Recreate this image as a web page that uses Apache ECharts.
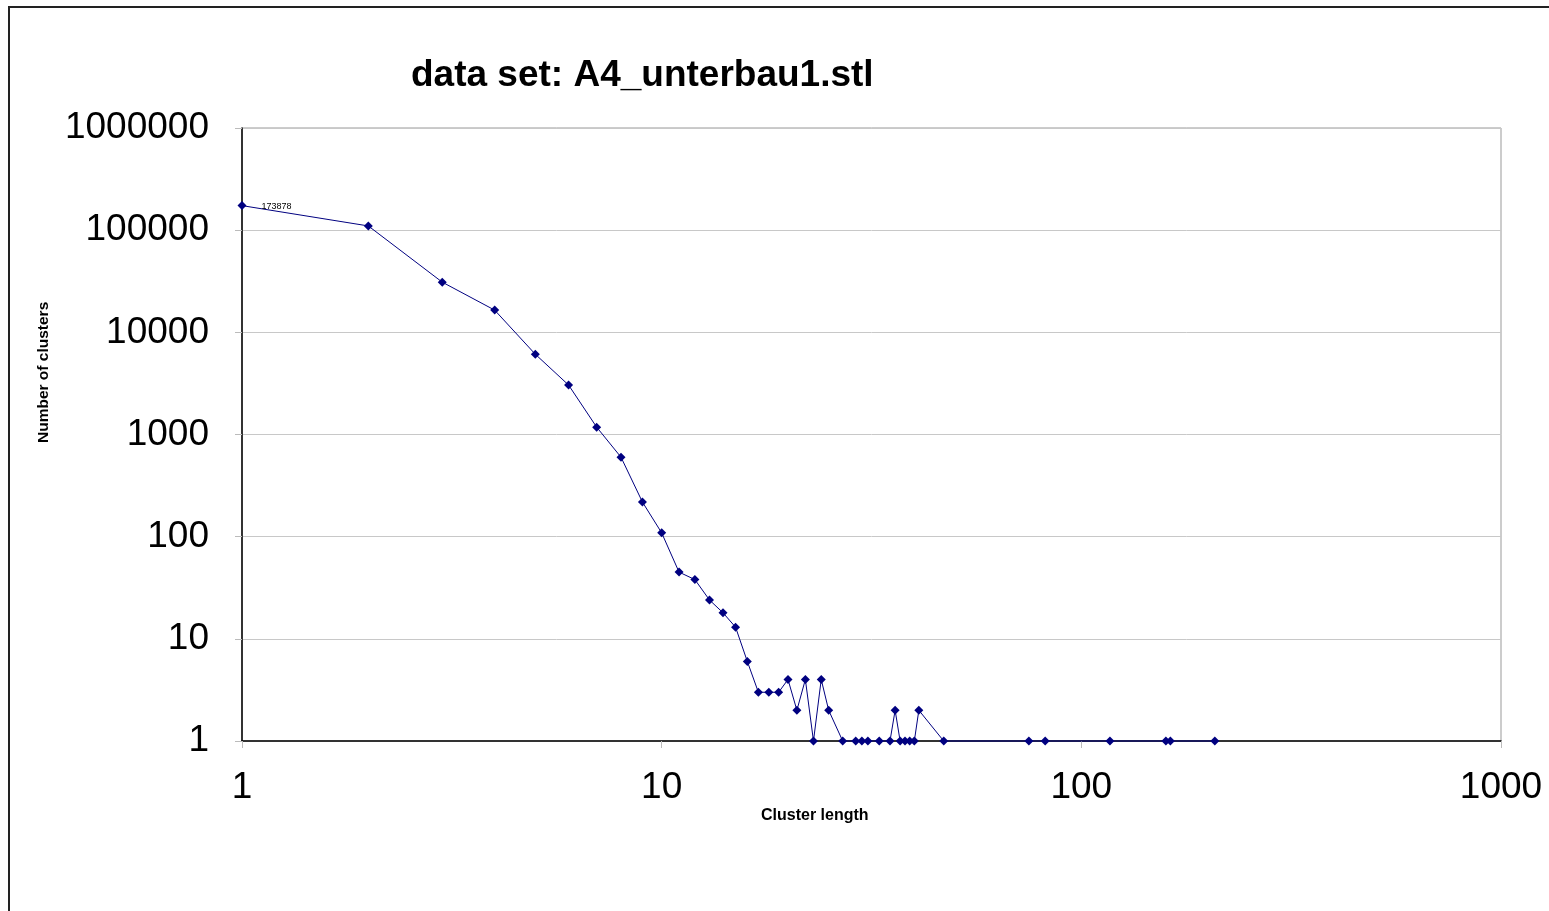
<!DOCTYPE html>
<html>
<head>
<meta charset="utf-8">
<script src="https://cdn.jsdelivr.net/npm/echarts@6/dist/echarts.min.js"></script>
<style>
  html, body { margin: 0; padding: 0; background: #fff; overflow: hidden; }
  #frame { position: absolute; left: 8px; top: 6px; width: 1600px; height: 1000px; border: 2px solid #222; box-sizing: border-box; }
  #main { position: absolute; left: 0; top: 0; width: 1549px; height: 911px; }
</style>
</head>
<body>
<div id="frame"></div>
<div id="main"></div>
<script>
  // cluster length vs number of clusters
  const clusterLength = [1, 2, 3, 4, 5, 6, 7, 8, 9, 10, 11, 12, 13, 14, 15, 16, 17, 18, 19, 20,
    21, 22, 23, 24, 25, 27, 29, 30, 31, 33, 35, 36, 37, 38, 39, 40, 41, 47, 75, 82, 117, 159, 163, 208];
  const clusterCount = [173878, 110000, 31000, 16500, 6100, 3050, 1180, 600, 218, 109, 45, 38, 24, 18, 13, 6, 3, 3, 3, 4,
    2, 4, 1, 4, 2, 1, 1, 1, 1, 1, 1, 2, 1, 1, 1, 1, 2, 1, 1, 1, 1, 1, 1, 1];
  const titleText = 'data set: A4_unterbau1.stl';
  const xName = 'Cluster length';
  const yName = 'Number of clusters';

  const font = '"Liberation Sans", Arial, sans-serif';
  const points = clusterLength.map((x, i) => {
    const p = { value: [x, clusterCount[i]] };
    if (i === 0) {
      p.label = { show: true, position: 'right', distance: 15, formatter: String(clusterCount[i]),
        fontSize: 9, color: '#000', fontFamily: font, offset: [0, 1] };
    }
    return p;
  });

  const chart = echarts.init(document.getElementById('main'));
  chart.setOption({
    animation: false,
    title: {
      text: titleText,
      left: 406, top: 52,
      textStyle: { fontFamily: font, fontSize: 37, fontWeight: 'bold', color: '#000' }
    },
    // axis titles sit off-centre in the original, so they are placed by hand
    graphic: [
      { type: 'text', left: 761, top: 808,
        style: { text: xName, font: 'bold 16px ' + font, fill: '#000' } },
      { type: 'text', x: 36, y: 443, rotation: Math.PI / 2,
        style: { text: yName, font: 'bold 15.5px ' + font, fill: '#000', align: 'left', verticalAlign: 'top' } }
    ],
    grid: {
      left: 242, right: 48, top: 128, bottom: 170,
      show: true, borderColor: '#999', borderWidth: 1, backgroundColor: 'transparent'
    },
    xAxis: {
      type: 'log', logBase: 10, min: 1, max: 1000, splitNumber: 3,
      axisLine: { show: true, lineStyle: { color: '#000', width: 1.5 } },
      axisTick: { show: true, length: 7, lineStyle: { color: '#bbb' } },
      minorTick: { show: false },
      splitLine: { show: false },
      axisLabel: { margin: 28, fontFamily: font, fontSize: 37, color: '#000', formatter: v => String(v) }
    },
    yAxis: {
      type: 'log', logBase: 10, min: 1, max: 1000000, splitNumber: 6,
      axisLine: { show: true, lineStyle: { color: '#000', width: 1.5 } },
      axisTick: { show: true, length: 7, lineStyle: { color: '#bbb' } },
      minorTick: { show: false },
      splitLine: { show: true, lineStyle: { color: '#c8c8c8', width: 1 } },
      axisLabel: { margin: 33, fontFamily: font, fontSize: 37, color: '#000', formatter: v => String(v) }
    },
    series: [{
      type: 'line',
      data: points,
      clip: false,
      symbol: 'diamond',
      symbolSize: 9,
      itemStyle: { color: '#000080' },
      lineStyle: { color: '#000080', width: 1 },
      z: 5
    }]
  });
</script>
</body>
</html>
